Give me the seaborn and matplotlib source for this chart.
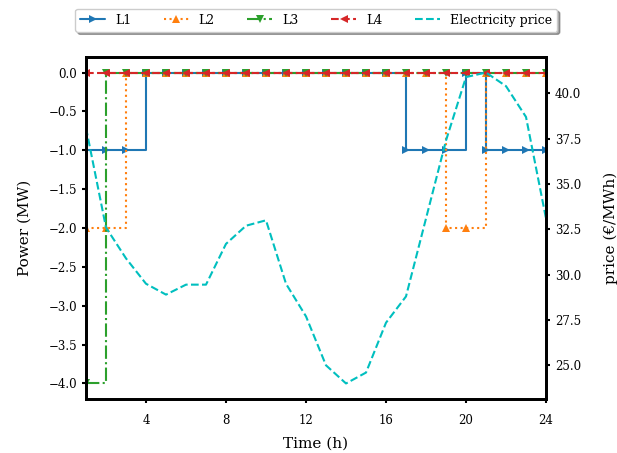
import matplotlib
matplotlib.use("Agg")
import matplotlib.pyplot as plt
import seaborn as sns
import pandas as pd

# hourly schedule of the four loads (MW) and the day-ahead price
hours = list(range(1, 25))
l1 = [-1, -1, -1, 0, 0, 0, 0, 0, 0, 0, 0, 0, 0, 0, 0, 0, -1, -1, -1, 0, -1, -1, -1, -1]
l2 = [-2, -2, 0, 0, 0, 0, 0, 0, 0, 0, 0, 0, 0, 0, 0, 0, 0, 0, -2, -2, 0, 0, 0, 0]
l3 = [-4, 0, 0, 0, 0, 0, 0, 0, 0, 0, 0, 0, 0, 0, 0, 0, 0, 0, 0, 0, 0, 0, 0, 0]
l4 = [0] * 24
price = [38.1, 32.6, 30.9, 29.5, 28.9, 29.45, 29.45, 31.7, 32.7, 33.0, 29.5, 27.7,
         25.0, 24.0, 24.6, 27.35, 28.8, 33.1, 37.4, 40.9, 41.15, 40.4, 38.7, 33.1]

sns.set_style("ticks")
plt.rcParams["font.family"] = ["DejaVu Serif"]
for k in ("text.color", "axes.labelcolor", "xtick.color", "ytick.color", "axes.edgecolor"):
    plt.rcParams[k] = "black"

df = pd.DataFrame({"hour": hours, "L1": l1, "L2": l2, "L3": l3, "L4": l4, "price": price})

fig = plt.figure(figsize=(6.17, 4.53), dpi=100)
ax = fig.add_axes([86 / 617, 54 / 453, 460 / 617, 342 / 453])

styles = [("L1", ">", "-", "tab:blue"),
          ("L2", "^", ":", "tab:orange"),
          ("L3", "v", "-.", "tab:green"),
          ("L4", "<", "--", "tab:red")]
for name, mk, ls, col in styles:
    sns.lineplot(data=df, x="hour", y=name, ax=ax, color=col, marker=mk, linestyle=ls,
                 drawstyle="steps-post", markersize=6, markeredgewidth=0,
                 linewidth=1.5, label=name, legend=False)

ax2 = ax.twinx()
sns.lineplot(data=df, x="hour", y="price", ax=ax2, color="c", linestyle="--",
             linewidth=1.5, label="Electricity price", legend=False)

ax.set_xlim(1, 24)
ax.set_xticks([4, 8, 12, 16, 20, 24])
ax.set_yticks([0, -0.5, -1, -1.5, -2, -2.5, -3, -3.5, -4])
ax2.set_yticks([25, 27.5, 30, 32.5, 35, 37.5, 40])
ax.set_xlabel("Time (h)", fontsize=11, labelpad=7)
ax.set_ylabel("Power (MW)", fontsize=11, labelpad=12)
ax2.set_ylabel("price (€/MWh)", fontsize=11, labelpad=16)
for a in (ax, ax2):
    a.tick_params(labelsize=8.5, width=1.5, length=3, direction="out")
    for s in a.spines.values():
        s.set_linewidth(2)
ax.tick_params(axis="x", pad=8)

h1, lab1 = ax.get_legend_handles_labels()
h2, lab2 = ax2.get_legend_handles_labels()
ax2.legend(h1 + h2, lab1 + lab2, loc="upper center", bbox_to_anchor=(0.5, 1.16),
           ncol=5, fontsize=9, shadow=True, frameon=True, edgecolor="0.8",
           handlelength=2.0, columnspacing=2.6)

fig.savefig("out.png", dpi=100)
